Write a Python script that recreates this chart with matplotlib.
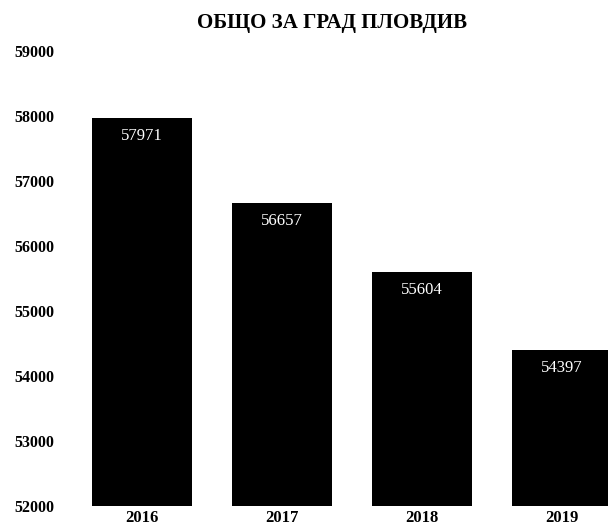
import matplotlib
matplotlib.use("Agg")
import matplotlib.pyplot as plt

# Данные графика
years = ["2016", "2017", "2018", "2019"]
values = [57971, 56657, 55604, 54397]
y_ticks = [52000, 53000, 54000, 55000, 56000, 57000, 58000, 59000]

plt.rcParams['font.family'] = ['Liberation Serif', 'DejaVu Serif']

fig = plt.figure(figsize=(6.08, 5.31), dpi=100)
ax = fig.add_axes([70 / 608, 25 / 531, 538 / 608, 455 / 531])

x = list(range(len(years)))
ax.bar(x, [v - 52000 for v in values], bottom=52000, width=0.71, color='black')

ax.set_xlim(-0.514, 3.329)
ax.set_ylim(52000, 59000)
ax.set_yticks(y_ticks)
ax.set_yticklabels([str(t) for t in y_ticks], fontsize=11.5, fontweight='bold')
ax.set_xticks(x)
ax.set_xticklabels(years, fontsize=12, fontweight='bold')
ax.tick_params(length=0)
ax.tick_params(axis='x', pad=3)
ax.tick_params(axis='y', pad=11)
for s in ax.spines.values():
    s.set_visible(False)

# Подписи значений внутри столбцов
for xi, v in zip(x, values):
    ax.text(xi, v - 280, str(v), color='white', fontsize=12,
            ha='center', va='center')

fig.text(332 / 608, 1 - 23 / 531, "ОБЩО ЗА ГРАД ПЛОВДИВ", ha='center', va='center',
         fontsize=15, fontweight='bold')

fig.savefig("out.png", dpi=100)
